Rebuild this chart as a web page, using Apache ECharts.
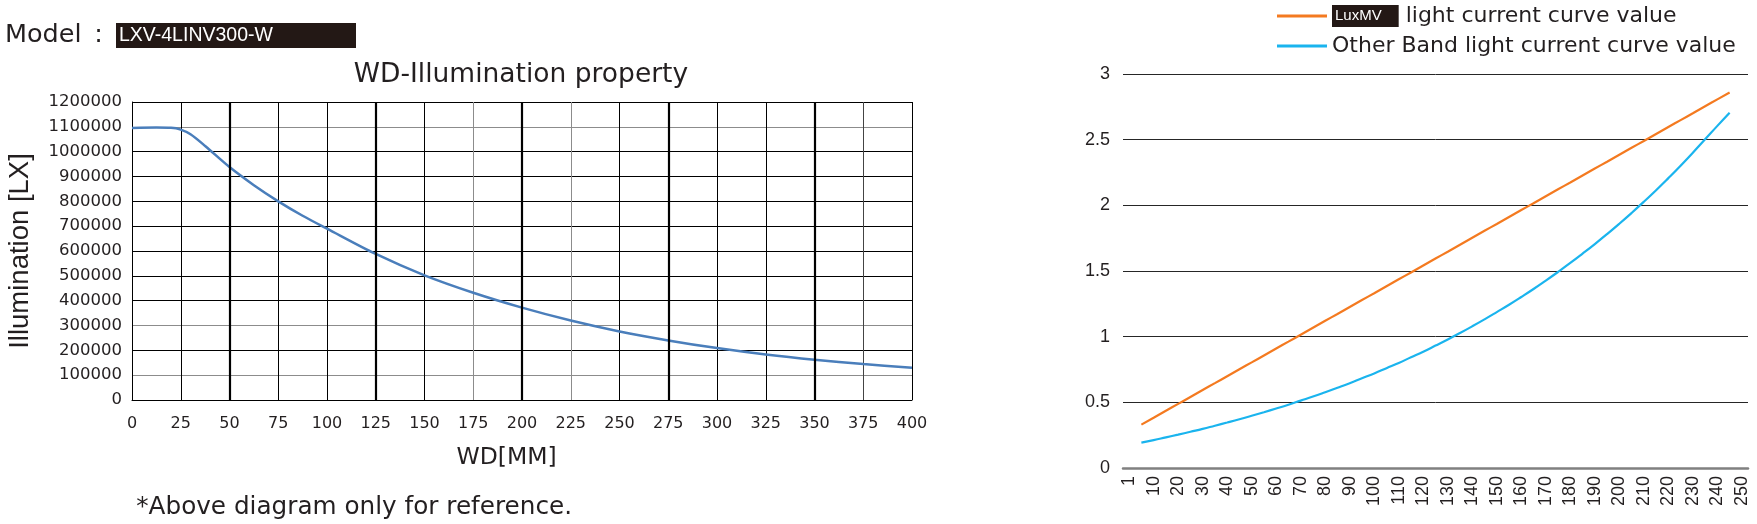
<!DOCTYPE html>
<html>
<head>
<meta charset="utf-8">
<script src="https://cdn.jsdelivr.net/npm/echarts@6/dist/echarts.min.js"></script>
<style>
  html, body { margin: 0; padding: 0; background: #fff; }
  #chart { width: 1757px; height: 524px; }
</style>
</head>
<body>
<div id="chart"></div>
<script>
// left chart: WD-Illumination property
const wd = [0, 12.5, 20, 25, 30, 37.5, 50, 62.5, 75, 87.5, 100, 125, 150, 175, 200, 225, 250, 275, 300, 325, 350, 375, 400];
const lux = [1095000, 1097000, 1096000, 1089000, 1070000, 1023000, 938000, 865000, 800000, 742000, 690000, 588000, 502000, 432000, 372000, 320000, 276000, 240000, 209000, 183000, 162000, 145000, 130000];
const heavyWd = [50, 125, 200, 275, 350];

// right chart: light current curves
const currentCats = ['1', '5', '10', '15', '20', '25', '30', '35', '40', '45', '50', '55', '60', '65', '70', '75', '80', '85', '90', '95',
  '100', '105', '110', '115', '120', '125', '130', '135', '140', '145', '150', '155', '160', '165', '170', '175', '180', '185', '190', '195',
  '200', '205', '210', '215', '220', '225', '230', '235', '240', '245', '250'];
const luxmvValues = [null, 0.330, 0.383, 0.436, 0.488, 0.541, 0.594, 0.646, 0.699, 0.752, 0.804, 0.857, 0.910, 0.962, 1.015, 1.068, 1.121, 1.173, 1.226, 1.279,
  1.331, 1.384, 1.437, 1.489, 1.542, 1.595, 1.647, 1.700, 1.753, 1.806, 1.858, 1.911, 1.964, 2.016, 2.069, 2.122, 2.174, 2.227, 2.280, 2.332,
  2.385, 2.438, 2.490, 2.543, 2.596, 2.649, 2.701, 2.754, 2.807, 2.859, null];
const otherBandValues = [null, 0.193, 0.212, 0.233, 0.254, 0.276, 0.298, 0.322, 0.346, 0.371, 0.398, 0.425, 0.453, 0.482, 0.513, 0.544, 0.577, 0.611, 0.646, 0.683,
  0.720, 0.760, 0.800, 0.843, 0.886, 0.932, 0.979, 1.028, 1.079, 1.132, 1.187, 1.243, 1.302, 1.363, 1.427, 1.493, 1.561, 1.632, 1.705, 1.781,
  1.860, 1.942, 2.027, 2.115, 2.207, 2.302, 2.401, 2.503, 2.605, 2.705, null];
const seriesNames = ['LuxMV light current curve value', 'Other Band light current curve value'];

const ink = '#231f20';
const grey = '#8c8c8c';
// x split lines at 0..400 step 25, y split lines at 0..1200000
const xGridColors = ['#000', '#000', '#000', '#000', '#000', '#000', '#000', grey, '#000', grey, '#000', '#000', '#000', '#000', '#000', '#444', '#000'];
const yGridColors = ['#000', grey, '#000', grey, '#000', '#000', '#000', '#000', '#000', '#000', '#000', grey, '#000'];

const chart = echarts.init(document.getElementById('chart'));

chart.setOption({
  animation: false,
  backgroundColor: '#fff',
  graphic: [
    {
      type: 'text', x: 5, y: 35.5,
      style: { text: 'Model\u2002:', fontFamily: 'DejaVu Sans', fontSize: 25.5, fill: ink, verticalAlign: 'middle' }
    },
    {
      type: 'rect', shape: { x: 116, y: 23, width: 240, height: 25 },
      style: { fill: '#231815' }
    },
    {
      type: 'text', x: 119, y: 36,
      style: { text: 'LXV-4LINV300-W', fontFamily: 'Liberation Sans', fontSize: 19.5, fill: '#fff', verticalAlign: 'middle' }
    },
    {
      type: 'text', x: 521, y: 75,
      style: { text: 'WD-Illumination property', fontFamily: 'DejaVu Sans', fontSize: 26.5, fill: ink, align: 'center', verticalAlign: 'middle' }
    },
    {
      type: 'text', x: 572, y: 508,
      style: { text: '*Above diagram only for reference.', fontFamily: 'DejaVu Sans', fontSize: 24.7, fill: ink, align: 'right', verticalAlign: 'middle' }
    }
  ],
  legend: {
    orient: 'vertical',
    left: 1277,
    top: 3,
    padding: 0,
    itemGap: 4,
    icon: 'rect',
    itemWidth: 50,
    itemHeight: 3,
    data: seriesNames,
    formatter: function (name) {
      if (name === seriesNames[0]) {
        return '{box|LuxMV}{txt| light current curve value}';
      }
      return '{txt|' + name + '}';
    },
    textStyle: {
      color: ink,
      fontFamily: 'DejaVu Sans',
      fontSize: 22,
      lineHeight: 26,
      rich: {
        box: { backgroundColor: '#231815', color: '#fff', fontFamily: 'Liberation Sans', fontSize: 15, height: 22, lineHeight: 22, padding: [0, 17, 0, 3] },
        txt: { color: ink, fontFamily: 'DejaVu Sans', fontSize: 22, lineHeight: 26 }
      }
    }
  },
  grid: [
    { left: 132, right: 845, top: 102, bottom: 124 },
    { left: 1123, right: 9, top: 74, bottom: 56 }
  ],
  xAxis: [
    {
      type: 'value', gridIndex: 0, min: 0, max: 400, interval: 25,
      name: 'WD[MM]', nameLocation: 'middle', nameGap: 46,
      nameTextStyle: { fontFamily: 'DejaVu Sans', fontSize: 23.5, color: ink, padding: [0, 31, 0, 0] },
      axisLine: { lineStyle: { color: '#000', width: 1 } },
      axisTick: { show: false },
      axisLabel: { margin: 16, fontFamily: 'DejaVu Sans', fontSize: 16, color: ink },
      splitLine: { show: true, lineStyle: { color: xGridColors, width: 1 } }
    },
    {
      type: 'category', gridIndex: 1, data: currentCats, boundaryGap: true,
      axisLine: { lineStyle: { color: '#808080', width: 2.5 } },
      axisTick: { show: false },
      axisLabel: { interval: 1, rotate: 90, margin: 8, fontFamily: 'Liberation Sans', fontSize: 18, color: ink },
      splitLine: { show: false }
    }
  ],
  yAxis: [
    {
      type: 'value', gridIndex: 0, min: 0, max: 1200000, interval: 100000,
      name: 'Illumination [LX]', nameLocation: 'middle', nameRotate: 90, nameGap: 98,
      nameTextStyle: { fontFamily: 'Liberation Sans', fontSize: 27.5, color: ink },
      axisLine: { show: true, lineStyle: { color: '#000', width: 1 } },
      axisTick: { show: false },
      axisLabel: { margin: 10, fontFamily: 'DejaVu Sans', fontSize: 16.5, color: ink, formatter: v => String(v) },
      splitLine: { show: true, lineStyle: { color: yGridColors, width: 1 } }
    },
    {
      type: 'value', gridIndex: 1, min: 0, max: 3, interval: 0.5,
      axisLine: { show: false },
      axisTick: { show: false },
      axisLabel: { margin: 13, fontFamily: 'Liberation Sans', fontSize: 18, color: ink },
      splitLine: { show: true, lineStyle: { color: '#262626', width: 1 } }
    }
  ],
  series: [
    {
      type: 'line', xAxisIndex: 0, yAxisIndex: 0,
      data: wd.map((x, i) => [x, lux[i]]),
      smooth: 0.3, symbol: 'none',
      lineStyle: { color: '#4a7ebb', width: 2.5 },
      markLine: {
        silent: true, symbol: 'none', label: { show: false },
        lineStyle: { color: '#000', width: 2.2, type: 'solid' },
        data: heavyWd.map(v => ({ xAxis: v }))
      },
      z: 3
    },
    {
      name: seriesNames[0], type: 'line', xAxisIndex: 1, yAxisIndex: 1,
      data: luxmvValues, symbol: 'none', smooth: true,
      itemStyle: { color: '#f47a20' },
      lineStyle: { color: '#f47a20', width: 2.2 }
    },
    {
      name: seriesNames[1], type: 'line', xAxisIndex: 1, yAxisIndex: 1,
      data: otherBandValues, symbol: 'none', smooth: true,
      itemStyle: { color: '#1ab4ee' },
      lineStyle: { color: '#1ab4ee', width: 2.2 }
    }
  ]
});
</script>
</body>
</html>
